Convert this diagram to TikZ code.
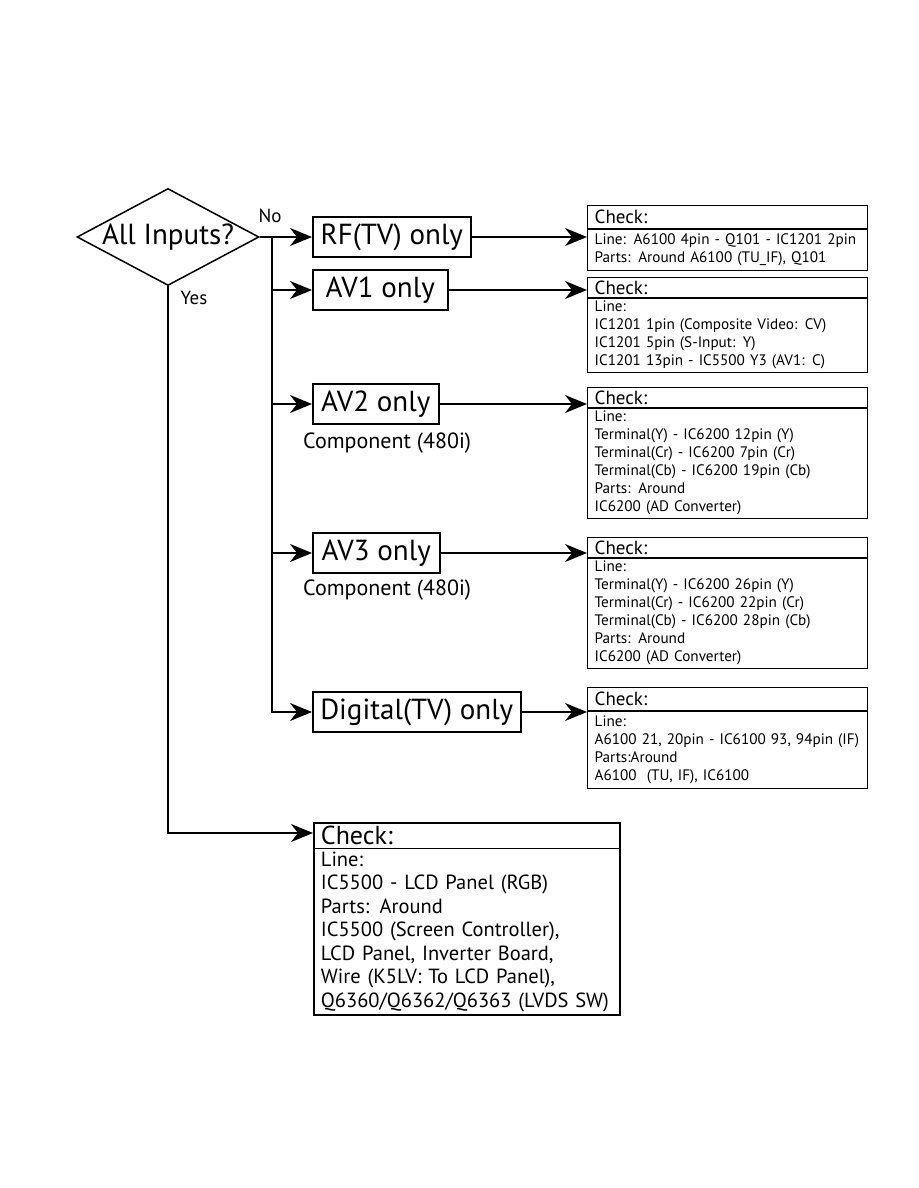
\documentclass[tikz,border=0pt]{standalone}
\usepackage{fontspec}
\setmainfont{PT Sans}
\usetikzlibrary{arrows.meta,shapes.geometric,shapes.multipart}
\newcommand{\chkhd}{{\fontsize{19}{20}\selectfont Check:}}
\newcommand{\bighd}{{\fontsize{26}{28}\selectfont Check:}}
\begin{document}
\begin{tikzpicture}[x=1pt, y=-1pt, >={Stealth[length=22pt,width=18pt,inset=7pt]},
  line/.style={line width=1.6pt},
  inbox/.style={draw, line width=1.5pt, anchor=west, inner xsep=6pt, minimum height=40pt, font=\fontsize{29}{32}\selectfont},
  note/.style={anchor=west, inner sep=0pt, font=\fontsize{22}{24}\selectfont},
  chk/.style={draw, line width=1.4pt, rectangle split, rectangle split parts=2, anchor=north west, text width=266pt, align=left, inner xsep=7pt, inner ysep=2.5pt, font=\fontsize{15.2}{18}\selectfont}]
  \useasboundingbox (0,0) rectangle (918,1188);
  \node[draw, diamond, line width=1.5pt, aspect=1.875, inner sep=0pt, minimum width=182pt, minimum height=97pt, font=\fontsize{29}{32}\selectfont] (allin) at (168,237) {All Inputs?};
  \node[font=\fontsize{19}{20}\selectfont] (no) at (270,216) {No};
  \node[font=\fontsize{19}{20}\selectfont] (yes) at (194,298) {Yes};
  \node[inbox, minimum width=158pt] (rf) at (312,237) {RF(TV) only};
  \node[inbox, minimum width=135pt] (av1) at (312,290) {AV1 only};
  \node[inbox, minimum width=126pt] (av2) at (312,404) {AV2 only};
  \node[note] (av2n) at (303,443) {Component (480i)};
  \node[inbox, minimum width=127pt] (av3) at (312,553) {AV3 only};
  \node[note] (av3n) at (303,590) {Component (480i)};
  \node[inbox, minimum width=208pt] (dig) at (312,712) {Digital(TV) only};
  \node[chk, inner ysep=4pt] (c1) at (587,205) {\chkhd \nodepart{two} Line: A6100 4pin - Q101 - IC1201 2pin\\Parts: Around A6100 (TU\_IF), Q101};
  \node[chk] (c2) at (587,277) {\chkhd \nodepart{two} Line:\\IC1201 1pin (Composite Video: CV)\\IC1201 5pin (S-Input: Y)\\IC1201 13pin - IC5500 Y3 (AV1: C)};
  \node[chk] (c3) at (587,387) {\chkhd \nodepart{two} Line:\\Terminal(Y) - IC6200 12pin (Y)\\Terminal(Cr) - IC6200 7pin (Cr)\\Terminal(Cb) - IC6200 19pin (Cb)\\Parts: Around\\IC6200 (AD Converter)};
  \node[chk] (c4) at (587,537) {\chkhd \nodepart{two} Line:\\Terminal(Y) - IC6200 26pin (Y)\\Terminal(Cr) - IC6200 22pin (Cr)\\Terminal(Cb) - IC6200 28pin (Cb)\\Parts: Around\\IC6200 (AD Converter)};
  \node[chk, inner ysep=4pt] (c5) at (587,687) {\chkhd \nodepart{two} Line:\\A6100 21, 20pin - IC6100 93, 94pin (IF)\\Parts:Around\\A6100~ (TU, IF), IC6100};
  \node[chk, text width=292pt, line width=1.8pt, font=\fontsize{20.5}{23.5}\selectfont] (c6) at (313,822) {\bighd \nodepart{two} Line:\\IC5500 - LCD Panel (RGB)\\Parts: Around\\IC5500 (Screen Controller),\\LCD Panel, Inverter Board,\\Wire (K5LV: To LCD Panel),\\Q6360/Q6362/Q6363 (LVDS SW)};
  \coordinate (br) at ([xshift=12pt]allin.east);
  \draw[line, ->] (allin.east) -- (rf.west);
  \draw[line, ->] (br) |- (dig.west);
  \foreach \b in {av1,av2,av3}
    \draw[line, ->] (br |- \b.west) -- (\b.west);
  \foreach \b/\c in {rf/c1, av1/c2, av2/c3, av3/c4, dig/c5}
    \draw[line, ->] (\b.east) -- (\b.east -| \c.west);
  \draw[line, ->] (allin.south) |- ([yshift=-11pt]c6.north west);
\end{tikzpicture}
\end{document}
